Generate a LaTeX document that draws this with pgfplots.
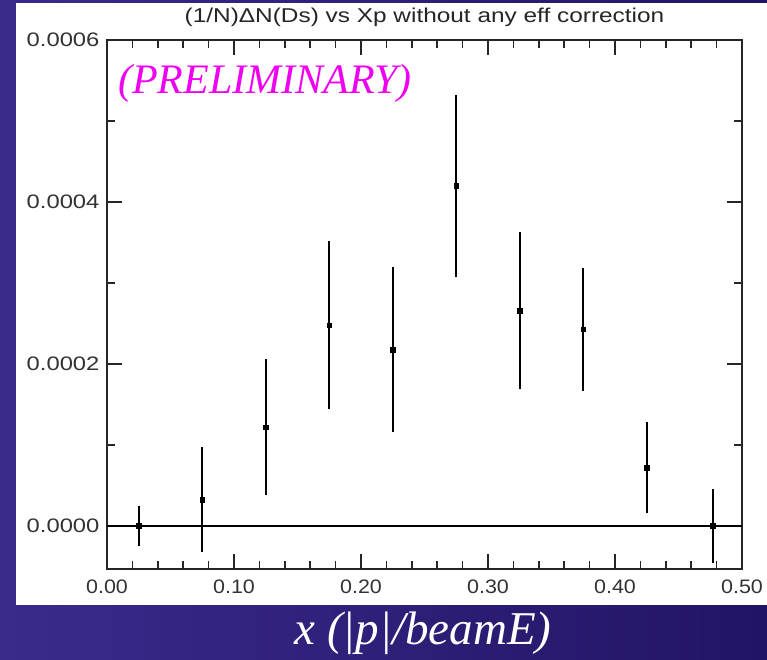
\documentclass[border=0pt]{standalone}
\usepackage{fontspec}
\setmainfont{Liberation Serif}
\newfontfamily\ticksans[FakeStretch=1.1]{Liberation Sans}
\newfontfamily\yticksans[FakeStretch=1.22]{Liberation Sans}
\newfontfamily\titlesans[FakeStretch=1.22]{Liberation Sans}
\usepackage{pgfplots}
\pgfplotsset{compat=1.18}
\definecolor{bgL}{RGB}{58,42,140}
\definecolor{bgR}{RGB}{34,20,100}
\definecolor{prelim}{RGB}{240,0,240}
\pgfplotstableread{
x y e
0.025 0.0000 0.000025
0.075 0.000033 0.000065
0.125 0.000122 0.000084
0.175 0.000248 0.000104
0.225 0.000218 0.000102
0.275 0.000420 0.000112
0.325 0.000266 0.000097
0.375 0.000243 0.000076
0.425 0.000072 0.000056
0.477 0.0000 0.000046
}\dsdata
\begin{document}
\begin{tikzpicture}[x=1pt,y=1pt]
\useasboundingbox (-107,-91) rectangle (660,569);
\shade[left color=bgL, right color=bgR] (-107,-91) rectangle (660,569);
\fill[white] (-91,-36) rectangle (660,566);
\begin{axis}[
  at={(0,0)}, anchor=south west,
  width=635pt, height=529pt, scale only axis,
  xmin=0, xmax=0.5, ymin=-0.000053, ymax=0.0006,
  xtick={0,0.1,0.2,0.3,0.4,0.5},
  ytick={0,0.0002,0.0004,0.0006},
  minor x tick num=4, minor y tick num=1,
  major tick length=15pt, minor tick length=8pt,
  tick align=inside,
  xtick pos=both, ytick pos=both,
  scaled y ticks=false, scaled x ticks=false,
  xticklabel style={/pgf/number format/fixed, /pgf/number format/fixed zerofill, /pgf/number format/precision=2, /pgf/number format/assume math mode=true, yshift=-7pt, font=\ticksans\fontsize{19.5}{19.5}\selectfont},
  yticklabel style={/pgf/number format/fixed, /pgf/number format/fixed zerofill, /pgf/number format/precision=4, /pgf/number format/assume math mode=true, xshift=-4pt, font=\yticksans\fontsize{19.5}{19.5}\selectfont},
  ticklabel style={text=black!80},
  axis line style={line width=1.5pt, black!85},
  every tick/.style={line width=1.5pt, black!85},
  clip=false,
]
\addplot[black, line width=1.5pt, forget plot] coordinates {(0,0) (0.5,0)};
\addplot[only marks, mark=square*, mark size=2.4pt, black,
  error bars/.cd, y dir=both, y explicit, error mark=none,
  error bar style={line width=2pt, black}]
  table[x=x, y=y, y error=e] {\dsdata};
\end{axis}
\node[anchor=west, inner sep=0pt, text=prelim, font=\itshape\fontsize{42}{42}\selectfont] at (11,486) {(PRELIMINARY)};
\node[font=\titlesans\fontsize{20}{20}\selectfont, text=black!85] at (317.5,552) {(1/N)ΔN(Ds) vs Xp without any eff correction};
\node[text=white, font=\itshape\fontsize{47}{47}\selectfont] at (316,-64) {x (|p|/beamE)};
\end{tikzpicture}
\end{document}
